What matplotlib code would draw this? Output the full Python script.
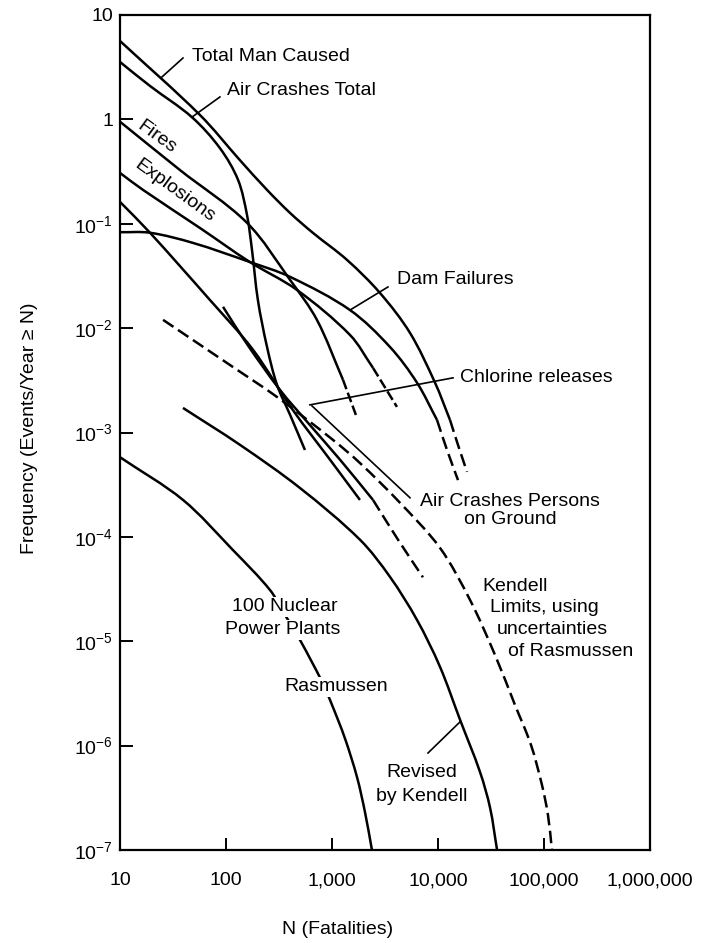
import numpy as np
import matplotlib.pyplot as plt
from matplotlib.path import Path
from matplotlib.patches import PathPatch

plt.rcParams['font.family'] = ['Liberation Sans', 'DejaVu Sans']
plt.rcParams['mathtext.fontset'] = 'custom'
plt.rcParams['mathtext.rm'] = 'Liberation Sans'
plt.rcParams['mathtext.it'] = 'Liberation Sans'

# values (N fatalities, events/year >= N)
total_n = [10, 56.9, 135, 244, 402, 662, 1387, 2838, 5445, 9377, 12980]
total_f = [5.64, 1.10, 0.408, 0.211, 0.127, 0.0817, 0.045, 0.0217, 0.0090, 0.0030, 0.00132]
total_tail_n = [12980, 15450, 18780]
total_tail_f = [0.00132, 7.6e-4, 4.2e-4]

air_n = [10, 19.2, 47.7, 87.7, 130, 158, 176, 200, 244, 303, 402, 556]
air_f = [3.55, 2.09, 1.05, 0.53, 0.263, 0.121, 0.056, 0.0186, 0.0066, 0.00286, 0.00148, 6.8e-4]

fires_n = [10, 36.8, 158, 402, 721, 1270]
fires_f = [0.95, 0.327, 0.102, 0.029, 0.012, 0.0032]
fires_tail_n = [1270, 1722]
fires_tail_f = [0.0032, 0.00138]

expl_n = [10, 16.5, 56.9, 168, 468, 1479, 2438]
expl_f = [0.307, 0.211, 0.091, 0.043, 0.0232, 0.0086, 0.00416]
expl_tail_n = [2438, 4100]
expl_tail_f = [0.00416, 0.00176]

dam_n = [10, 19.2, 48.9, 168, 402, 1479, 3524, 6340, 9790]
dam_f = [0.083, 0.082, 0.0655, 0.043, 0.031, 0.0149, 0.0066, 0.0030, 0.00132]
dam_tail_n = [9790, 12170, 15450]
dam_tail_f = [0.00132, 6.8e-4, 3.5e-4]

chlor_n = [10, 19.2, 70.6, 180, 428, 957, 1836]
chlor_f = [0.162, 0.082, 0.0186, 0.0062, 0.00164, 5.5e-4, 2.26e-4]

ground_n = [93.8, 160, 323, 619, 1189, 2438]
ground_f = [0.0160, 0.0069, 0.00256, 0.00118, 5.5e-4, 2.26e-4]
ground_tail_n = [2438, 4198, 7215]
ground_tail_f = [2.26e-4, 9.4e-5, 4.1e-5]

kendell_lim_n = [25.5, 116, 303, 1021, 1836, 4385, 10440, 20050, 34500, 53200, 75300, 95700,
                 109000, 118800]
kendell_lim_f = [0.0120, 0.00425, 0.00219, 8.5e-4, 5.1e-4, 2.12e-4, 7.85e-5, 2.49e-5, 7.4e-6,
                 2.46e-6, 1.02e-6, 4.2e-7, 2.17e-7, 1e-7]

revised_n = [39.3, 136, 499, 1836, 3524, 6340, 10440, 16150, 24900, 31000, 36100]
revised_f = [0.00172, 7.6e-4, 2.94e-4, 9.4e-5, 4.14e-5, 1.6e-5, 5.7e-6, 1.77e-6, 5.6e-7,
             2.54e-7, 1e-7]

rasmussen_n = [10, 39.3, 116, 260, 360, 499, 805, 1000, 1327, 1722, 2049, 2383]
rasmussen_f = [5.8e-4, 2.26e-4, 7.5e-5, 3.1e-5, 1.79e-5, 1.03e-5, 4.1e-6, 2.46e-6, 1.17e-6,
               5.0e-7, 2.3e-7, 1e-7]

x_ticks = [10, 100, 1000, 10000, 100000, 1000000]
x_labels = ['10', '100', '1,000', '10,000', '100,000', '1,000,000']
y_ticks = [10, 1, 1e-1, 1e-2, 1e-3, 1e-4, 1e-5, 1e-6, 1e-7]
y_labels = ['10', '1', '$10^{-1}$', '$10^{-2}$', '$10^{-3}$', '$10^{-4}$',
            '$10^{-5}$', '$10^{-6}$', '$10^{-7}$']


def curve(ax, xs, ys, dashes=None, lw=1.8):
    # smooth bezier through the read points (chord-length tangents, log space)
    p = np.column_stack([np.log10(xs), np.log10(ys)])
    d = np.hypot(*np.diff(p, axis=0).T)
    n = len(p)
    tang = np.zeros_like(p)
    tang[0] = (p[1] - p[0]) / d[0]
    tang[-1] = (p[-1] - p[-2]) / d[-1]
    for i in range(1, n - 1):
        tang[i] = (p[i + 1] - p[i - 1]) / (d[i - 1] + d[i])
    verts = [p[0]]
    codes = [Path.MOVETO]
    for i in range(n - 1):
        verts += [p[i] + tang[i] * d[i] / 3, p[i + 1] - tang[i + 1] * d[i] / 3, p[i + 1]]
        codes += [Path.CURVE4] * 3
    path = Path(10 ** np.array(verts), codes)
    ls = '-' if dashes is None else (0, dashes)
    ax.add_patch(PathPatch(path, fill=False, edgecolor='black', lw=lw, ls=ls,
                           capstyle='butt'))


fig = plt.figure(figsize=(7.12, 9.43), dpi=100)
ax = fig.add_axes([0.1685, 0.0986, 0.7444, 0.8855])
ax.set_xscale('log')
ax.set_yscale('log')
ax.set_xlim(10, 1e6)
ax.set_ylim(1e-7, 10)

long_dash = (5, 2.2)
short_dash = (4, 1.5)

curve(ax, total_n, total_f)
curve(ax, total_tail_n, total_tail_f, long_dash)
curve(ax, air_n, air_f)
curve(ax, fires_n, fires_f)
curve(ax, fires_tail_n, fires_tail_f, short_dash)
curve(ax, expl_n, expl_f)
curve(ax, expl_tail_n, expl_tail_f, short_dash)
curve(ax, dam_n, dam_f)
curve(ax, dam_tail_n, dam_tail_f, long_dash)
curve(ax, chlor_n, chlor_f)
curve(ax, ground_n, ground_f)
curve(ax, ground_tail_n, ground_tail_f, long_dash)
curve(ax, kendell_lim_n, kendell_lim_f, long_dash)
curve(ax, revised_n, revised_f)
curve(ax, rasmussen_n, rasmussen_f)

fs = 14
lead = dict(color='black', lw=1.2)

# labels and leader lines
ax.text(47.7, 3.96, 'Total Man Caused', fontsize=fs, ha='left', va='center')
ax.plot([39.3, 24.9], [3.87, 2.55], **lead)
ax.text(102, 1.91, 'Air Crashes Total', fontsize=fs, ha='left', va='center')
ax.plot([87.7, 47.7], [1.64, 1.05], **lead)
ax.text(22.3, 0.678, 'Fires', fontsize=fs, ha='center', va='center', rotation=-36,
        rotation_mode='anchor')
ax.text(33, 0.206, 'Explosions', fontsize=fs, ha='center', va='center', rotation=-36,
        rotation_mode='anchor')
ax.text(4100, 0.029, 'Dam Failures', fontsize=fs, ha='left', va='center')
ax.plot([3375, 1479], [0.0248, 0.0149], **lead)
ax.text(16150, 0.0034, 'Chlorine releases', fontsize=fs, ha='left', va='center')
ax.plot([13870, 619], [0.00334, 0.00184], **lead)
ax.text(47700, 2.16e-4, 'Air Crashes Persons', fontsize=fs, ha='center', va='center')
ax.text(47700, 1.46e-4, 'on Ground', fontsize=fs, ha='center', va='center')
ax.plot([647, 5445], [0.0018, 2.37e-4], **lead)

ax.text(26000, 3.32e-5, 'Kendell', fontsize=fs, ha='left', va='center')
ax.text(31000, 2.09e-5, 'Limits, using', fontsize=fs, ha='left', va='center')
ax.text(36100, 1.29e-5, 'uncertainties', fontsize=fs, ha='left', va='center')
ax.text(45700, 7.9e-6, 'of Rasmussen', fontsize=fs, ha='left', va='center')

ax.text(7060, 5.5e-7, 'Revised', fontsize=fs, ha='center', va='center')
ax.text(7060, 3.24e-7, 'by Kendell', fontsize=fs, ha='center', va='center')
ax.plot([8050, 16150], [8.5e-7, 1.69e-6], **lead)

mask = dict(facecolor='white', edgecolor='none', pad=1.0)
ax.text(360, 2.14e-5, '100 Nuclear', fontsize=fs, ha='center', va='center', bbox=mask, zorder=5)
ax.text(345, 1.29e-5, 'Power Plants', fontsize=fs, ha='center', va='center', bbox=mask, zorder=5)
ax.text(1092, 3.66e-6, 'Rasmussen', fontsize=fs, ha='center', va='center', bbox=mask, zorder=5)

ax.set_xticks(x_ticks)
ax.set_xticklabels(x_labels)
ax.set_yticks(y_ticks)
ax.set_yticklabels(y_labels)
ax.minorticks_off()
ax.tick_params(axis='both', which='major', direction='in', length=9, width=1.4,
               labelsize=fs)
ax.tick_params(axis='x', pad=16)
ax.tick_params(axis='y', pad=5)
for s in ax.spines.values():
    s.set_linewidth(1.6)

fig.text(338 / 712, 1 - 930 / 943, 'N (Fatalities)', fontsize=fs, ha='center', va='center')
fig.text(30 / 712, 1 - 428 / 943, 'Frequency (Events/Year \u2265 N)', fontsize=fs,
         ha='center', va='center', rotation=90)

fig.savefig('out.png', dpi=100)
